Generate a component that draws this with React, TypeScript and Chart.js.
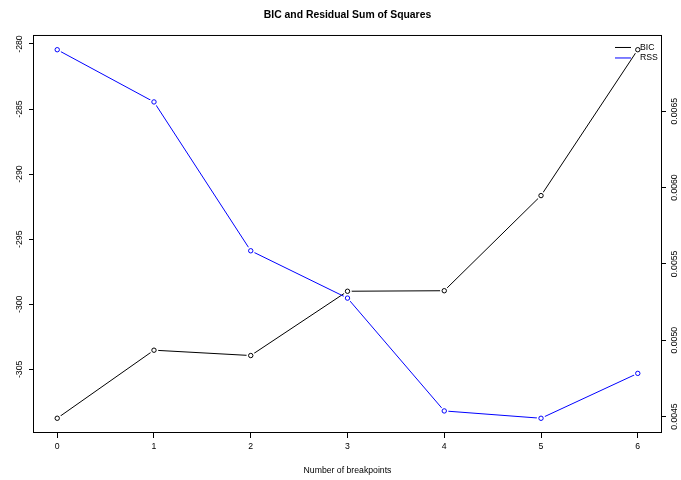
import { useEffect, useRef } from "react";
import { Chart, registerables } from "chart.js";

Chart.register(...registerables);

// ---- data ----
const breakpoints = [0, 1, 2, 3, 4, 5, 6];
const bicValues = [-308.76, -303.53, -303.94, -299.0, -298.96, -291.65, -280.44];
const rssValues = [0.006903, 0.006561, 0.005586, 0.005276, 0.004537, 0.004489, 0.004783];
const xTickValues = [0, 1, 2, 3, 4, 5, 6];
const bicTickValues = [-305, -300, -295, -290, -285, -280];
const rssTickValues = [0.0045, 0.005, 0.0055, 0.006, 0.0065];
const seriesLabels = ["BIC", "RSS"];
const seriesColors = ["#000000", "#0000ff"];
const mainTitle = "BIC and Residual Sum of Squares";
const xAxisTitle = "Number of breakpoints";

const FAMILY = "'Liberation Sans', Arial, Helvetica, sans-serif";
const AXIS_FONT = 8.7;
const MAIN_FONT = 10.4;

function rRange(vals: number[]): [number, number] {
  const lo = Math.min(...vals);
  const hi = Math.max(...vals);
  const d = (hi - lo) * 0.04;
  return [lo - d, hi + d];
}

const toPoints = (ys: number[]) => breakpoints.map((x, i) => ({ x, y: ys[i] }));

const boxPlugin = {
  id: "rbox",
  afterDatasetsDraw(chart: any) {
    const { ctx, chartArea } = chart;
    const { left, top, right, bottom } = chartArea;
    ctx.save();
    ctx.strokeStyle = "#000";
    ctx.lineWidth = 1;
    ctx.strokeRect(left - 0.5, top + 0.5, right - left + 1, bottom - top - 1);
    ctx.restore();
  },
};

const legendPlugin = {
  id: "rlegend",
  afterDraw(chart: any) {
    const { ctx, chartArea } = chart;
    const { right, top } = chartArea;
    seriesLabels.forEach((lab, i) => {
      const y = top + 12.5 + i * 10.5;
      ctx.save();
      ctx.beginPath();
      ctx.lineWidth = 1;
      ctx.strokeStyle = seriesColors[i];
      ctx.moveTo(right - 46, y);
      ctx.lineTo(right - 30, y);
      ctx.stroke();
      ctx.restore();
      ctx.save();
      ctx.font = `${AXIS_FONT}px ${FAMILY}`;
      ctx.textBaseline = "middle";
      ctx.textAlign = "left";
      ctx.fillStyle = "#000";
      ctx.fillText(lab, right - 21, y);
      ctx.restore();
    });
  },
};

export default function App() {
  const ref = useRef<HTMLCanvasElement | null>(null);

  useEffect(() => {
    document.body.style.margin = "0";
    const canvas = ref.current;
    if (!canvas) return;

    const [xMin, xMax] = rRange(breakpoints);
    const [bMin, bMax] = rRange(bicValues);
    const [rMin, rMax] = rRange(rssValues);

    const tickFont = { family: FAMILY, size: AXIS_FONT };
    const gridOpts = {
      drawOnChartArea: false,
      drawTicks: true,
      tickLength: 5,
      color: "#000",
      lineWidth: 1,
    };

    const lineDs = (i: number, ys: number[], axis: string, order: number) => ({
      label: seriesLabels[i],
      data: toPoints(ys),
      yAxisID: axis,
      borderColor: seriesColors[i],
      backgroundColor: seriesColors[i],
      borderWidth: 1,
      pointRadius: 0,
      pointHoverRadius: 0,
      tension: 0,
      fill: false,
      order,
    });
    const haloDs = (i: number, ys: number[], axis: string, order: number) => ({
      label: seriesLabels[i] + "_halo",
      data: toPoints(ys),
      yAxisID: axis,
      showLine: false,
      pointRadius: 4.2,
      pointBorderWidth: 0,
      pointBorderColor: "rgba(255,255,255,0)",
      pointBackgroundColor: "#ffffff",
      order,
    });
    const markDs = (i: number, ys: number[], axis: string, order: number) => ({
      label: seriesLabels[i] + "_pts",
      data: toPoints(ys),
      yAxisID: axis,
      showLine: false,
      pointRadius: 2.2,
      pointBorderWidth: 1,
      pointBorderColor: seriesColors[i],
      pointBackgroundColor: "rgba(255,255,255,0)",
      order,
    });

    const chart = new Chart(canvas, {
      type: "line",
      data: {
        datasets: [
          lineDs(0, bicValues, "y", 6),
          lineDs(1, rssValues, "y1", 5),
          haloDs(0, bicValues, "y", 4),
          haloDs(1, rssValues, "y1", 3),
          markDs(0, bicValues, "y", 2),
          markDs(1, rssValues, "y1", 1),
        ] as any,
      },
      options: {
        responsive: false,
        animation: false,
        devicePixelRatio: 1,
        layout: { padding: 0 },
        plugins: {
          legend: { display: false },
          tooltip: { enabled: false },
          title: {
            display: true,
            text: mainTitle,
            fullSize: false,
            color: "#000",
            font: { family: FAMILY, size: MAIN_FONT, weight: "bold" },
            padding: { top: 8.75, bottom: 13.75 },
          },
        },
        scales: {
          x: {
            type: "linear",
            min: xMin,
            max: xMax,
            afterBuildTicks: (s: any) => {
              s.ticks = xTickValues.map((v) => ({ value: v }));
            },
            afterFit: (s: any) => {
              s.height = 47;
            },
            ticks: {
              font: tickFont,
              color: "#000",
              padding: 3.5,
              autoSkip: false,
              maxRotation: 0,
              minRotation: 0,
              callback: (v: any) => String(v),
            },
            grid: gridOpts,
            border: { display: false },
            title: {
              display: true,
              text: xAxisTitle,
              color: "#000",
              font: tickFont,
              padding: { top: 0, bottom: 3.8 },
            },
          },
          y: {
            type: "linear",
            position: "left",
            min: bMin,
            max: bMax,
            afterBuildTicks: (s: any) => {
              s.ticks = bicTickValues.map((v) => ({ value: v }));
            },
            afterFit: (s: any) => {
              s.width = 34;
            },
            ticks: {
              font: tickFont,
              color: "#000",
              minRotation: 90,
              maxRotation: 90,
              crossAlign: "center",
              padding: 0.8,
              autoSkip: false,
              callback: (v: any) => String(v),
            },
            grid: gridOpts,
            border: { display: false },
          },
          y1: {
            type: "linear",
            position: "right",
            min: rMin,
            max: rMax,
            afterBuildTicks: (s: any) => {
              s.ticks = rssTickValues.map((v) => ({ value: v }));
            },
            afterFit: (s: any) => {
              s.width = 20;
            },
            ticks: {
              font: tickFont,
              color: "#000",
              minRotation: 90,
              maxRotation: 90,
              crossAlign: "center",
              padding: -4.3,
              autoSkip: false,
              callback: (v: any) => Number(v).toFixed(4),
            },
            grid: gridOpts,
            border: { display: false },
          },
        },
      } as any,
      plugins: [boxPlugin, legendPlugin],
    });

    return () => chart.destroy();
  }, []);

  return (
    <canvas
      ref={ref}
      width={681}
      height={480}
      style={{ display: "block", width: "681px", height: "480px" }}
    />
  );
}
